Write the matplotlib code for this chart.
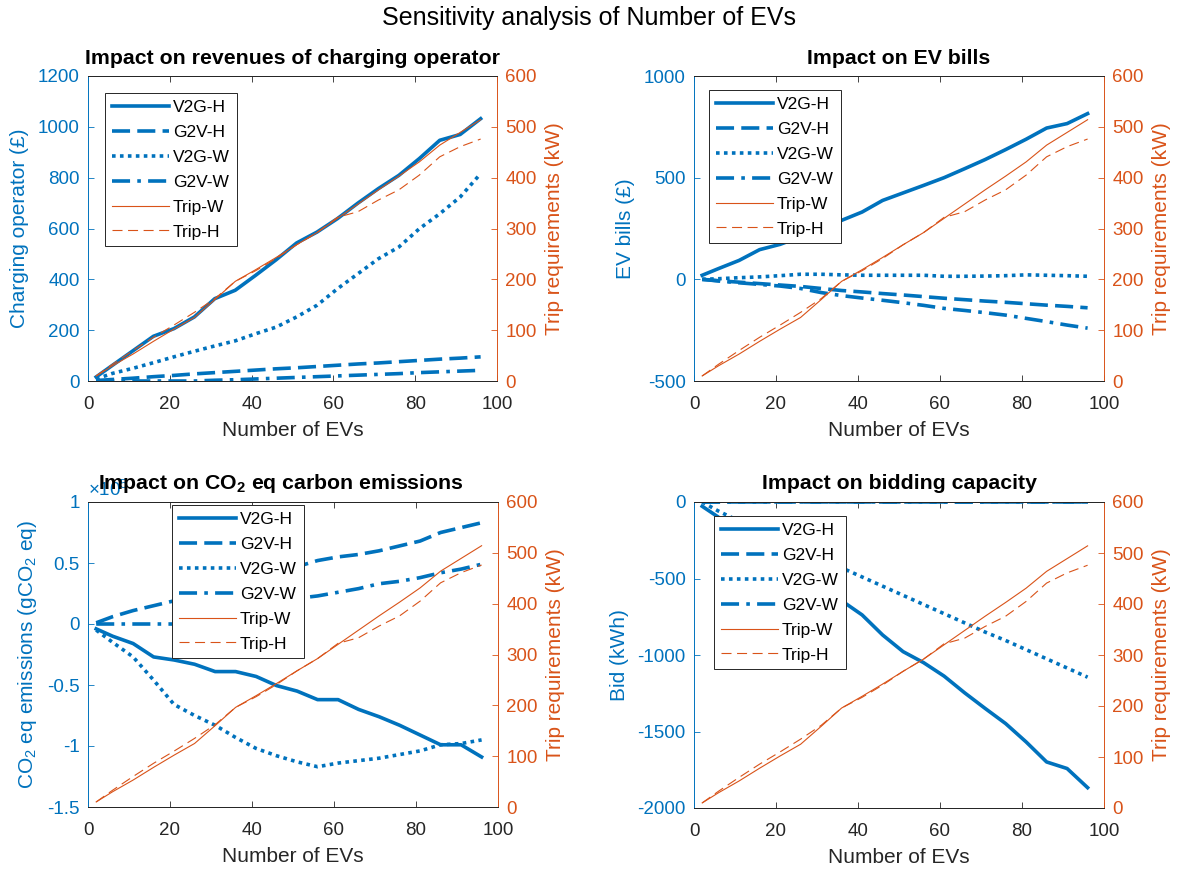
import numpy as np
import matplotlib
matplotlib.use("Agg")
import matplotlib.pyplot as plt
from matplotlib.ticker import FuncFormatter

plt.rcParams['font.family'] = ['Liberation Sans', 'DejaVu Sans']
plt.rcParams['mathtext.fontset'] = 'custom'
plt.rcParams['mathtext.rm'] = 'Liberation Sans'
plt.rcParams['mathtext.it'] = 'Liberation Sans:italic'
plt.rcParams['mathtext.bf'] = 'Liberation Sans:bold'
plt.rcParams['axes.unicode_minus'] = False

BLUE = '#0072BD'
ORANGE = '#D95319'
DARK = '#262626'

# number of EVs (x axis)
n_evs = [2, 6, 11, 16, 21, 26, 31, 36, 41, 46, 51, 56, 61, 66, 71, 76, 81, 86, 91, 96]

# trip requirements (kW), right axis, same in every panel
trip_w = [10, 30, 53, 78, 102, 125, 160, 196, 219, 243, 268, 292, 320, 348, 376, 403, 431, 464, 489, 514]
trip_h = [10, 33, 60, 86, 110, 135, 162, 196, 217, 241, 268, 292, 322, 333, 356, 376, 405, 441, 461, 476]

# revenues of charging operator (GBP)
op_v2g_h = [16, 62, 119, 176, 206, 252, 324, 357, 416, 477, 543, 586, 639, 700, 757, 809, 875, 947, 970, 1032]
op_g2v_h = [2, 6, 11, 17, 22, 28, 33, 38, 43, 48, 52, 57, 62, 67, 71, 76, 81, 86, 90, 95]
op_v2g_w = [8, 30, 50, 72, 95, 117, 138, 158, 186, 212, 252, 298, 363, 422, 481, 527, 599, 658, 724, 816]
op_g2v_w = [0, 0, 0, 0, 0, 0, 3, 5, 8, 11, 14, 17, 20, 23, 26, 29, 33, 36, 39, 42]

# EV bills (GBP)
bill_v2g_h = [20, 53, 93, 146, 172, 210, 245, 290, 331, 388, 425, 462, 500, 544, 589, 638, 689, 744, 766, 815]
bill_g2v_h = [0, -7, -14, -21, -28, -35, -45, -55, -62, -70, -77, -85, -93, -100, -107, -113, -120, -127, -133, -140]
bill_v2g_w = [0, 3, 8, 12, 18, 25, 25, 22, 20, 20, 20, 20, 15, 15, 16, 18, 22, 20, 18, 15]
bill_g2v_w = [0, -8, -17, -25, -33, -45, -65, -80, -92, -103, -115, -128, -143, -153, -164, -176, -192, -208, -225, -240]

# CO2 eq emissions, in units of 1e5 gCO2 eq
co2_v2g_h = [-0.04, -0.10, -0.16, -0.27, -0.295, -0.33, -0.39, -0.39, -0.43, -0.505, -0.55, -0.62, -0.62, -0.70, -0.76, -0.83, -0.91, -0.99, -0.99, -1.09]
co2_g2v_h = [0.01, 0.06, 0.11, 0.15, 0.19, 0.23, 0.27, 0.31, 0.36, 0.42, 0.47, 0.52, 0.55, 0.57, 0.60, 0.64, 0.68, 0.75, 0.79, 0.83]
co2_v2g_w = [-0.05, -0.15, -0.27, -0.46, -0.66, -0.75, -0.83, -0.93, -1.02, -1.08, -1.13, -1.17, -1.14, -1.12, -1.10, -1.07, -1.04, -0.99, -0.98, -0.95]
co2_g2v_w = [0, 0, 0, 0, 0, 0.03, 0.07, 0.10, 0.14, 0.18, 0.21, 0.23, 0.26, 0.29, 0.33, 0.35, 0.38, 0.42, 0.45, 0.49]

# bidding capacity (kWh)
bid_v2g_h = [-28, -100, -190, -280, -370, -465, -555, -645, -738, -869, -978, -1050, -1138, -1247, -1349, -1448, -1568, -1699, -1742, -1867]
bid_g2v_h = [0] * 20
bid_v2g_w = [0, -60, -125, -190, -250, -310, -370, -430, -490, -550, -610, -670, -730, -790, -850, -905, -965, -1025, -1085, -1145]
bid_g2v_w = [0] * 20

labels = ['V2G-H', 'G2V-H', 'V2G-W', 'G2V-W', 'Trip-W', 'Trip-H']

W, H = 1177, 875
fig = plt.figure(figsize=(W / 100, H / 100), dpi=100)

fmt = FuncFormatter(lambda v, p: '%g' % v)


def make_panel(rect, series, ylim, yticks, ylabel, title, leg_anchor, title_x=0.5):
    ax = fig.add_axes(rect)
    ax2 = ax.twinx()
    # MATLAB-like '-', '--', ':', '-.'
    styles = ['-', (0, (5, 2)), (0, (1, 1.2)), (0, (5, 2, 1, 2))]
    handles = []
    for ys, ls in zip(series, styles):
        h, = ax.plot(n_evs, ys, color=BLUE, lw=2.6, ls=ls)
        handles.append(h)
    hw, = ax2.plot(n_evs, trip_w, color=ORANGE, lw=0.8, ls='-')
    hh, = ax2.plot(n_evs, trip_h, color=ORANGE, lw=0.8, ls=(0, (9, 5)))
    handles += [hw, hh]

    ax.set_xlim(0, 100)
    ax.set_xticks(range(0, 101, 20))
    ax.set_ylim(*ylim)
    ax.set_yticks(yticks)
    ax.yaxis.set_major_formatter(fmt)
    ax2.set_ylim(0, 600)
    ax2.set_yticks(range(0, 601, 100))

    ax.tick_params(axis='x', direction='in', top=True, length=4, width=0.6,
                   colors=DARK, labelsize=13.5, pad=11)
    ax.tick_params(axis='y', direction='in', length=4, width=0.6,
                   colors=BLUE, labelsize=13.5, pad=6)
    ax2.tick_params(axis='y', direction='in', length=4, width=0.6,
                    colors=ORANGE, labelsize=13.5, pad=6)
    for a in (ax, ax2):
        a.spines['top'].set_color(DARK)
        a.spines['bottom'].set_color(DARK)
        for s in a.spines.values():
            s.set_linewidth(0.7)
    ax.spines['left'].set_color(BLUE)
    ax2.spines['left'].set_visible(False)
    ax.spines['right'].set_visible(False)
    ax2.spines['right'].set_color(ORANGE)

    ax.set_xlabel('Number of EVs', fontsize=15, color=DARK, labelpad=5.5)
    ax.set_ylabel(ylabel, fontsize=15, color=BLUE, labelpad=6)
    ax2.set_ylabel('Trip requirements (kW)', fontsize=15, color=ORANGE, labelpad=6)
    ax2.set_title(title, fontsize=15.3, fontweight='bold', pad=9, x=title_x)

    leg = ax2.legend(handles, labels, loc='upper left', bbox_to_anchor=leg_anchor,
                     fontsize=12.5, handlelength=3.3, frameon=True, fancybox=False,
                     framealpha=1, edgecolor=DARK, borderaxespad=0, labelspacing=0.56,
                     handletextpad=0.2, borderpad=0.4)
    leg.get_frame().set_linewidth(0.7)
    return ax, ax2


px = lambda l, t, r, b: [l / W, 1 - b / H, (r - l) / W, (b - t) / H]

make_panel(px(88, 76, 497, 381),
           [op_v2g_h, op_g2v_h, op_v2g_w, op_g2v_w],
           (0, 1200), range(0, 1201, 200),
           'Charging operator (£)', 'Impact on revenues of charging operator',
           (0.042, 0.944))

make_panel(px(694, 76, 1104, 381),
           [bill_v2g_h, bill_g2v_h, bill_v2g_w, bill_g2v_w],
           (-500, 1000), range(-500, 1001, 500),
           'EV bills (£)', 'Impact on EV bills',
           (0.037, 0.954))

ax3, _ = make_panel(px(88, 502, 498, 807),
                    [co2_v2g_h, co2_g2v_h, co2_v2g_w, co2_g2v_w],
                    (-1.5, 1), [-1.5, -1, -0.5, 0, 0.5, 1],
                    r'CO$_2$ eq emissions (gCO$_2$ eq)', r'Impact on CO$_\mathbf{2}$ eq carbon emissions',
                    (0.205, 0.99), title_x=0.47)
ax3.text(0.0, 1.005, r'$\times 10^5$', transform=ax3.transAxes, color=BLUE,
         fontsize=13.5, ha='left', va='bottom')

make_panel(px(694, 502, 1104, 808),
           [bid_v2g_h, bid_g2v_h, bid_v2g_w, bid_g2v_w],
           (-2000, 0), range(-2000, 1, 500),
           'Bid (kWh)', 'Impact on bidding capacity',
           (0.049, 0.954))

fig.text(0.5, 1 - 18 / H, 'Sensitivity analysis of Number of EVs', ha='center', va='center',
         fontsize=18, color='black')

fig.savefig('out.png', dpi=100)
